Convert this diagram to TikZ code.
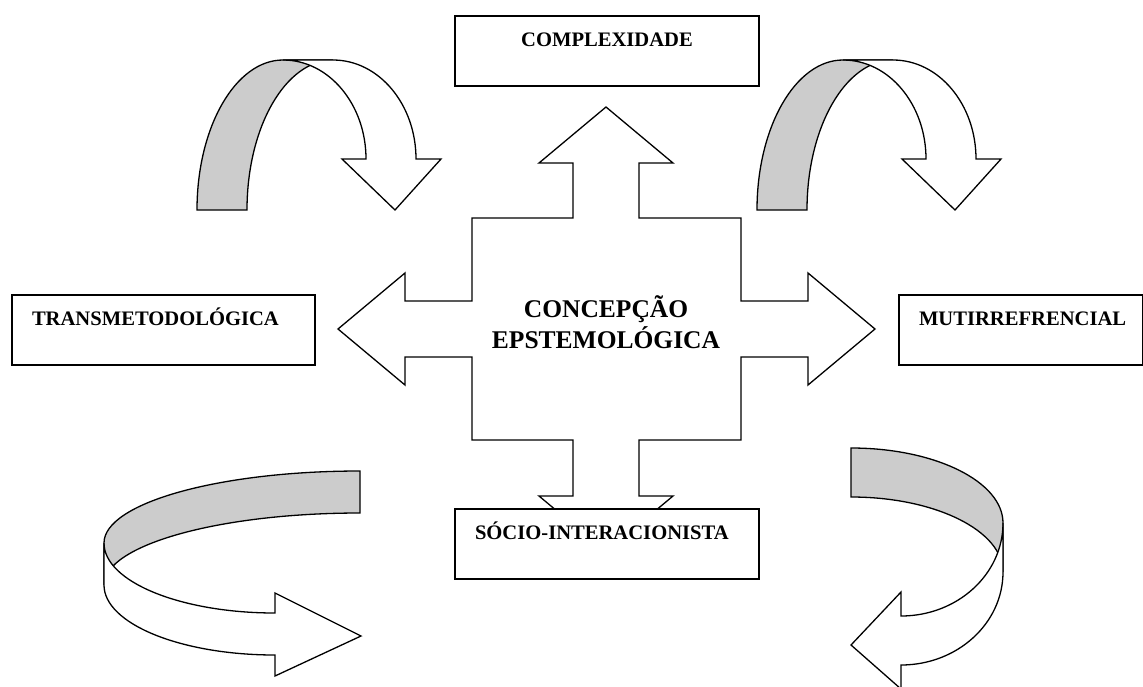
\documentclass[tikz,border=0pt]{standalone}
\usepackage{fontspec}
\setmainfont{Liberation Serif}[BoldFont={Liberation Serif Bold}]
\definecolor{bandgray}{RGB}{204,204,204}

\begin{document}
\begin{tikzpicture}[x=1pt, y=-1pt,
    ribbon/.style={draw, line width=1.3pt, line join=miter},
    backband/.style={ribbon, fill=bandgray},
    frontband/.style={ribbon, fill=white},
    box/.style={draw, line width=2pt, fill=white, anchor=north west,
                inner xsep=20pt, inner ysep=0pt, text height=30pt, text depth=40pt,
                align=left, font=\fontsize{20.6}{24}\selectfont\bfseries},
    core/.style={inner sep=0pt, align=center, font=\fontsize{25.5}{31}\selectfont\bfseries}
]
\useasboundingbox (0,0) rectangle (1143,686);

% curved arrows on top
\foreach \dx in {0,560} {
  \begin{scope}[xshift=\dx]
    \draw[backband] (197,210) arc[start angle=180, end angle=270, x radius=86, y radius=150]
        -- (333,60) arc[start angle=270, end angle=180, x radius=86, y radius=150] -- cycle;
    \draw[frontband] (283,60) arc[start angle=270, end angle=360, x radius=83, y radius=99]
        -- (342,159) -- (395,210) -- (441,159) -- (416,159)
        arc[start angle=0, end angle=-90, x radius=83, y radius=99] -- cycle;
  \end{scope}
}

% curved arrows below
\draw[backband] (360,471) arc[start angle=270, end angle=180, x radius=256, y radius=72]
    -- (104,585) arc[start angle=180, end angle=270, x radius=256, y radius=72] -- cycle;
\draw[frontband] (104,543) arc[start angle=180, end angle=90, x radius=171, y radius=70]
    -- (275,593) -- (361,636) -- (275,676) -- (275,655)
    arc[start angle=90, end angle=180, x radius=171, y radius=70] -- cycle;

\draw[backband] (851,448) arc[start angle=270, end angle=360, x radius=152, y radius=75]
    -- (1003,572) arc[start angle=0, end angle=-90, x radius=152, y radius=75] -- cycle;
\draw[frontband] (1003,523) arc[start angle=0, end angle=90, x radius=102, y radius=93]
    -- (901,592) -- (851,645) -- (901,689) -- (901,665)
    arc[start angle=90, end angle=0, x radius=102, y radius=93] -- cycle;

% four-way arrow
\draw[frontband] (606,107) -- (673,163) -- (639,163) -- (639,218) -- (741,218) -- (741,301)
    -- (808,301) -- (808,273) -- (875,329) -- (808,385) -- (808,357) -- (741,357)
    -- (741,440) -- (639,440) -- (639,496) -- (673,496) -- (606,552) -- (539,496)
    -- (573,496) -- (573,440) -- (472,440) -- (472,357) -- (405,357) -- (405,385)
    -- (338,329) -- (405,273) -- (405,301) -- (472,301) -- (472,218) -- (573,218)
    -- (573,163) -- (539,163) -- cycle;

\node[core] (concepcao) at (606,322) {CONCEPÇÃO\\EPSTEMOLÓGICA};

\node[box, text width=264pt, align=center] (complexidade) at (454,15) {COMPLEXIDADE};
\node[box, text width=263pt] (transmet) at (11,294) {TRANSMETODOLÓGICA};
\node[box, text width=204pt] (mutirref) at (898,294) {MUTIRREFRENCIAL};
\node[box, text width=264pt] (socio) at (454,508) {SÓCIO-INTERACIONISTA};
\end{tikzpicture}
\end{document}
